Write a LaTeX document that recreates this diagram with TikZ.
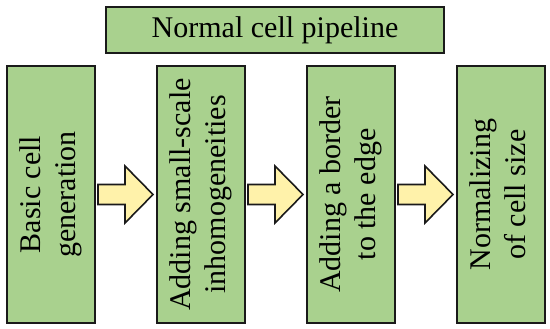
\documentclass[tikz,border=0pt]{standalone}
\usepackage{fontspec}
\setmainfont{Liberation Serif}
\usetikzlibrary{positioning,calc}
\definecolor{stepgreen}{HTML}{A9D18E}
\definecolor{arrowyellow}{HTML}{FFF2AA}
\definecolor{edgegray}{HTML}{1A1A1A}
\newcommand{\vtext}[1]{\rotatebox{90}{\begin{tabular}{@{}c@{}}#1\end{tabular}}}

\begin{document}
\begin{tikzpicture}[
  font=\fontsize{30pt}{35pt}\selectfont,
  box/.style={draw=edgegray, line width=1.6pt, fill=stepgreen, inner sep=0pt, outer sep=0pt},
  stage/.style={box, minimum width=88pt, minimum height=257pt},
  fat/.style={draw=edgegray, line width=1.6pt, fill=arrowyellow, line join=miter}]
\useasboundingbox (0,0) rectangle (550pt,-329pt);
% ---- title ----
\node[box, minimum width=338pt, minimum height=46pt] (title) at (275pt,-30pt) {Normal cell pipeline};
% ---- pipeline stages ----
\node[stage] (gen) at (51pt,-194.5pt) {\vtext{Basic cell\\generation}};
\node[stage, right=62pt of gen] (inhom) {\vtext{Adding small-scale\\inhomogeneities}};
\node[stage, right=62pt of inhom] (border) {\vtext{Adding a border\\to the edge}};
\node[stage, right=62pt of border] (norm) {\vtext{Normalizing\\of cell size}};
% ---- block arrows ----
\foreach \a/\b in {gen/inhom, inhom/border, border/norm} {
  \draw[fat] ($(\a.east)+(3pt,10pt)$) -- ++(27pt,0) -- ++(0,18.5pt)
    -- ($(\b.west)+(-4pt,0)$) -- ($(\a.east)+(30pt,-28.5pt)$) -- ++(0,18.5pt)
    -- ($(\a.east)+(3pt,-10pt)$) -- cycle;
}
\end{tikzpicture}
\end{document}
